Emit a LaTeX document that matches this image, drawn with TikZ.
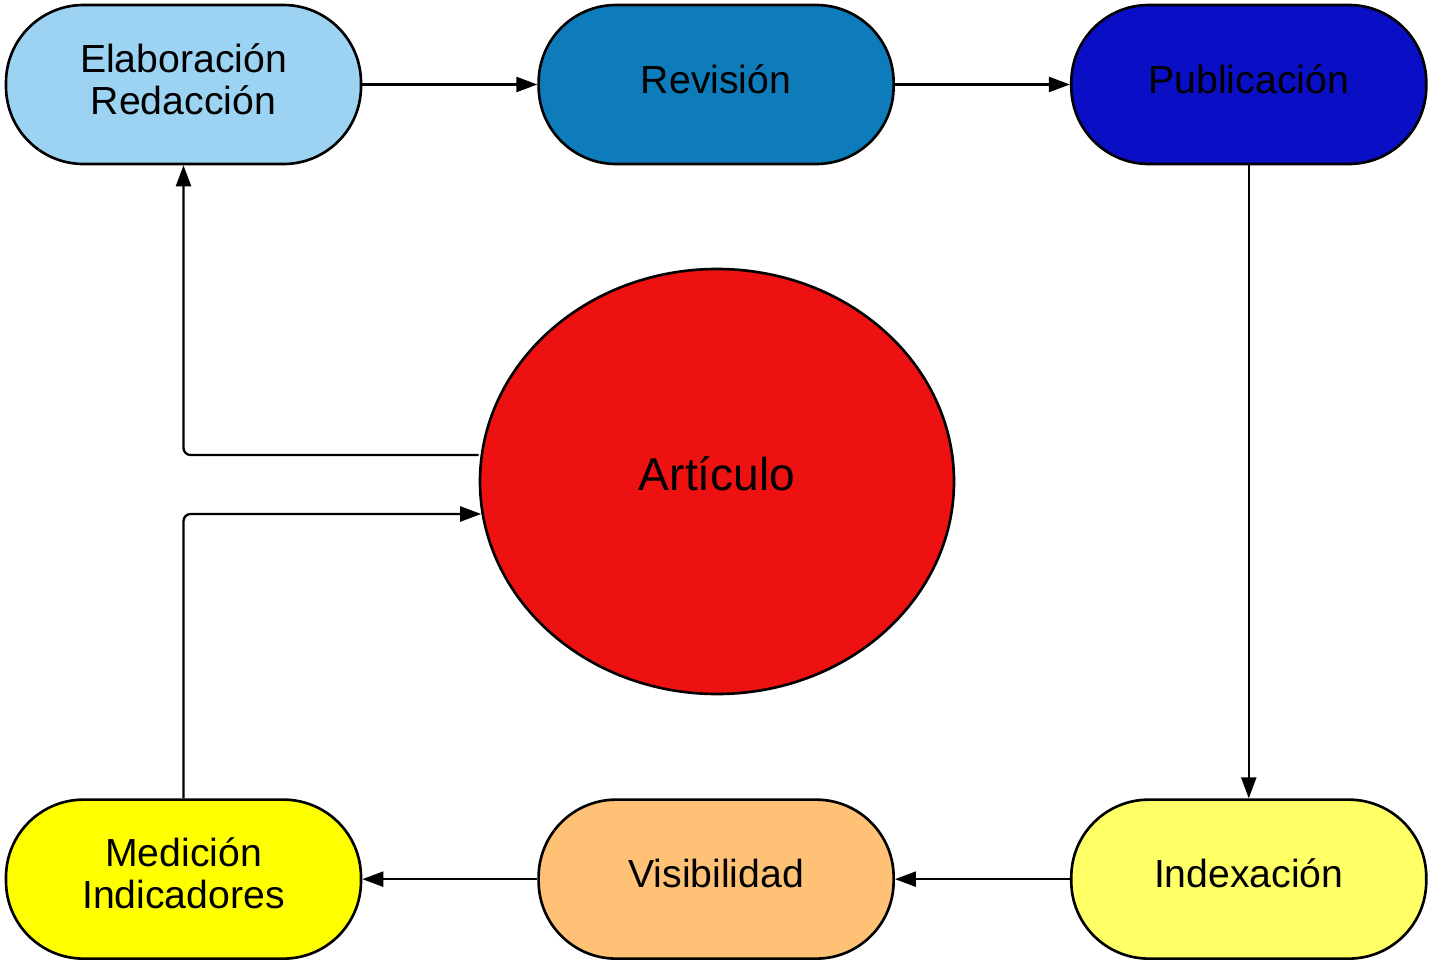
\documentclass[tikz,border=0pt]{standalone}
\usepackage{fontspec}
\setmainfont{Liberation Sans}
\usepackage{tikz}
\usetikzlibrary{arrows.meta,positioning,shapes.geometric}
\definecolor{celeste}{RGB}{157,211,242}
\definecolor{azulmedio}{RGB}{14,123,186}
\definecolor{azulfuerte}{RGB}{10,14,196}
\definecolor{rojo}{RGB}{238,17,17}
\definecolor{amarillo}{RGB}{255,255,0}
\definecolor{naranja}{RGB}{254,193,118}
\definecolor{amarilloclaro}{RGB}{255,255,102}
\tikzset{
    %Define standard arrow tip
    >={Triangle[length=0.42cm,width=0.3cm]},
    %Define style for boxes
    etapa/.style={
           rectangle,
           rounded corners=1.55cm,
           draw=black, line width=1.5pt,
           minimum width=7.1cm,
           minimum height=3.18cm,
           text depth=0.23cm,
           align=center,
           font=\fontsize{22.3}{23.9}\selectfont},
    centro/.style={
           ellipse,
           draw=black, line width=1.5pt,
           fill=rojo,
           minimum width=9.48cm,
           minimum height=8.5cm,
           text depth=0.32cm,
           font=\fontsize{26.2}{30}\selectfont},
    % Define arrow style
    flecha/.style={
           ->,
           line width=1.3pt,
           rounded corners=4pt}
}
\begin{document}
\begin{tikzpicture}[node distance=3.5cm]
\useasboundingbox (0,0) rectangle (28.62,-19.22);
\node[etapa, fill=celeste] (elab) at (3.67,-1.69) {Elaboración\\Redacción};
\node[etapa, fill=azulmedio, right=of elab] (rev) {Revisión};
\node[etapa, fill=azulfuerte, right=of rev] (pub) {Publicación};
\node[etapa, fill=amarilloclaro, below=12.66cm of pub] (idx) {Indexación};
\node[etapa, fill=naranja, left=of idx] (vis) {Visibilidad};
\node[etapa, fill=amarillo, left=of vis] (med) {Medición\\Indicadores};
\node[centro] (art) at (14.34,-9.63) {Artículo};
 \path[flecha]
    (elab) edge (rev)
    (rev) edge (pub)
    (pub) edge (idx)
    (idx) edge (vis)
    (vis) edge (med);
\draw[flecha] ([yshift=0.53cm]art.west) -| (elab.south);
\draw[flecha] (med.north) |- ([xshift=0.05cm,yshift=-0.65cm]art.west);
\end{tikzpicture}
\end{document}
